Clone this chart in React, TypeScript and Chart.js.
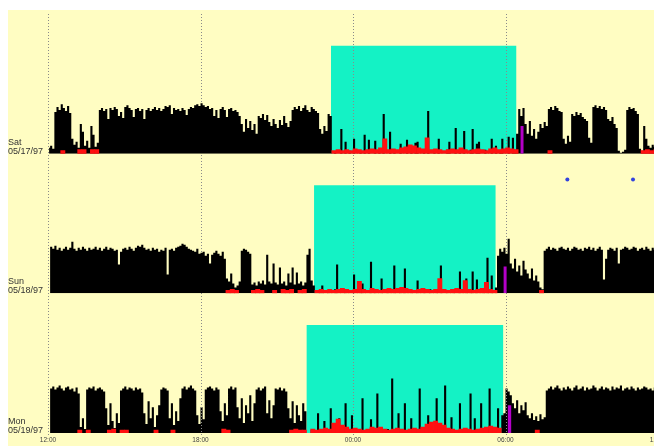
import React, { useEffect, useRef } from "react";
import { Chart, registerables } from "chart.js";

Chart.register(...registerables);

// ---- DATA ----
const dayNames = ["Sat", "Sun", "Mon"];
const dayDates = ["05/17/97", "05/18/97", "05/19/97"];
const tickLabels = ["12:00", "18:00", "00:00", "06:00", "12:00"];

// rest intervals (clock times)
const restStart = ["23:08", "22:28", "22:10"];
const restEnd = ["06:26", "05:37", "05:55"];
const REST_LEVEL = 1090;

// wake markers (purple)
const wakeStart = ["06:35", "05:55", "06:05"];
const wakeMinutes = [8, 8, 9];
const wakeLevel = [280, 270, 280];

// event markers (blue dots, Sunday panel)
const eventTimes = ["08:26", "11:01"];
const EVENT_LEVEL = 1150;

// activity counts, 5-minute epochs from 12:00 (288 per day)
const actSat = [
  60, 80, 50,
  420, 470, 440, 500, 460, 430, 480, 410,
  150, 90, 120, 60,
  300, 220,
  80, 130, 60,
  280, 190,
  70, 110,
  440, 460, 430, 450, 350, 460, 440, 470, 450, 380,
  420, 360, 470, 490, 460, 440, 370, 450, 460, 430,
  450, 350, 440, 460, 430, 450, 470, 440, 460, 430,
  450, 480, 470, 490, 400, 460, 440, 450, 430, 460,
  440, 390, 450, 470, 460, 490, 500, 480, 510, 490,
  470, 480, 450, 460, 380, 440, 360, 450, 470, 440,
  370, 450, 460, 430, 440, 420,
  380, 300, 220, 350, 260, 330, 240, 300, 200,
  380, 360, 400, 340, 390,
  320, 280, 350, 300, 260, 340, 290, 380, 310, 270, 330,
  440, 470, 450, 480, 430, 460, 490, 440, 420, 470, 450, 430, 410,
  250, 200, 280, 230,
  400, 380,
  0, 20, 0, 0, 250, 0, 120, 0, 30, 0,
  150, 0, 0, 20, 0, 190, 0, 140, 0, 0,
  130, 0, 30, 0, 400, 0, 0, 220, 0, 40,
  0, 0, 100, 0, 0, 140, 0, 30, 0, 110,
  120, 0, 0, 40, 0, 430, 0, 0, 30, 0,
  150, 0, 0, 0, 40, 120, 0, 0, 260, 0,
  30, 0, 230, 0, 0, 40, 250, 0, 100, 120,
  0, 0, 40, 0, 0, 150, 0, 80, 0, 30,
  150, 0, 0, 170, 0, 160, 40, 200,
  450, 380, 460, 300,
  200, 330, 180, 250, 150, 220,
  300, 260, 320, 280,
  450, 470, 440, 480, 460, 430, 420,
  150, 100, 180, 120,
  400, 380, 420, 390, 410, 370, 350, 330,
  160, 110,
  470, 490, 460, 480, 450, 470, 440,
  350, 330, 370, 300, 260,
  30, 10, 20, 40,
  440, 470, 450, 460, 430, 400,
  50, 30,
  280, 150,
  80, 60, 90, 70, 50,
];

const actSun = [
  0,
  470, 450, 480,
  440, 460, 430, 450, 470, 440, 460,
  520,
  450, 430, 460, 440, 470, 450, 430, 460, 440, 450,
  470, 440, 460, 430, 450, 470, 440, 460, 450, 430,
  440, 290, 420,
  450, 460, 440, 470, 450, 430, 460, 480, 470, 490,
  460, 440, 450, 430, 460, 440, 450, 420, 440, 430,
  460, 190,
  440, 450, 430, 460, 470, 480, 500, 490, 470, 450,
  440, 430, 420, 450, 400, 410,
  420, 380, 400, 300, 390, 410, 430, 400, 380, 420, 350,
  150, 120, 200, 100,
  60, 80, 120,
  430, 450, 440, 420, 400,
  90, 110, 80, 120, 100, 130, 90, 390, 120, 100,
  300, 110, 90, 260, 100, 120, 80, 200, 110, 260,
  90, 210, 100, 120, 80, 110, 390, 450, 130, 80,
  0, 0, 30, 80, 0, 0, 20, 0, 0, 40,
  290, 0, 0, 0, 30, 0, 0, 0, 190, 0,
  0, 40, 100, 0, 0, 0, 320, 0, 30, 0,
  0, 150, 0, 0, 20, 0, 0, 280, 0, 0,
  40, 0, 250, 0, 0, 30, 0, 0, 130, 0,
  0, 20, 0, 0, 40, 0, 0, 30, 0, 280,
  0, 0, 30, 0, 0, 40, 0, 0, 220, 0,
  0, 150, 0, 30, 220, 0, 140, 0, 0, 40,
  0, 360, 0, 180, 0, 60,
  380, 450, 420, 460, 400,
  550,
  300, 250, 350, 220, 280, 180, 330, 240,
  200, 150, 250, 130, 180, 120,
  60, 40,
  430, 450, 470, 440, 460, 450, 430, 460, 470, 450,
  440, 460, 430, 450, 470, 460, 440, 450, 430, 460,
  450, 470, 440, 460, 430, 450, 470, 440, 140, 350,
  440, 460, 450, 430, 460, 300, 440, 450, 470, 460,
  440, 450, 470, 460, 430, 450, 460, 440, 470, 450,
  430, 460, 440, 450,
];

const actMon = [
  0,
  450, 470, 440, 460, 480, 450, 430, 460, 470, 440, 450, 420, 460, 400,
  60, 150, 40,
  440, 460, 450, 470, 430, 450, 460, 440, 420,
  250, 80, 300, 120, 50, 200, 100,
  430, 450, 470, 440, 460, 450, 430, 460, 440, 450, 410,
  200, 90, 320, 150, 260, 60, 180, 280,
  440, 460, 450, 430,
  150, 300, 80, 220, 120, 350,
  450, 470, 440, 460, 480, 450, 430,
  180, 90, 260, 140,
  440, 460, 470, 450, 430, 460, 440,
  220, 120, 300, 180,
  450, 470, 440, 460,
  260, 150, 350, 100, 280, 200, 380, 120, 300,
  440, 460, 430, 450, 470,
  200, 330, 150, 280,
  450, 440, 460, 430, 450, 420,
  250, 150, 320, 100, 280, 180, 120, 300, 220,
  0, 0, 30, 0, 0, 200, 0, 0, 120, 0,
  0, 250, 0, 30, 0, 150, 0, 0, 300, 0,
  40, 180, 0, 0, 30, 0, 350, 0, 0, 40,
  140, 0, 0, 400, 0, 30, 0, 0, 40, 0,
  550, 0, 0, 200, 0, 0, 300, 0, 40, 150,
  0, 0, 30, 450, 0, 0, 40, 180, 0, 0,
  30, 350, 0, 0, 40, 480, 0, 0, 160, 0,
  30, 0, 300, 0, 0, 40, 0, 400, 0, 150,
  0, 30, 300, 0, 0, 40, 450, 0, 0, 30,
  250, 0, 180,
  200,
  450, 420, 380,
  300, 250, 330, 200, 280, 230, 310, 180, 150, 200, 130, 170, 120, 190, 140, 160,
  430, 450, 470, 440, 460, 480, 450, 430, 460, 440,
  470, 450, 430, 460, 480, 440, 450, 470, 430, 460,
  440, 450, 480, 460, 430, 450, 470, 440, 460, 450,
  430, 470, 440, 460, 450, 480, 430, 450, 460, 440,
  470, 450, 430, 460, 440, 450, 470, 460, 440, 450,
  430, 460, 450,
];

// red level, 10-minute bins from 12:00 (144 per day)
const redSat = [
  0, 0, 0, 30, 0, 0, 0, 40, 40, 0,
  40, 40, 0, 0, 0, 0, 0, 0, 0, 0,
  0, 0, 0, 0, 0, 0, 0, 0, 0, 0,
  0, 0, 0, 0, 0, 0, 0, 0, 0, 0,
  0, 0, 0, 0, 0, 0, 0, 0, 0, 0,
  0, 0, 0, 0, 0, 0, 0, 0, 0, 0,
  0, 0, 0, 0, 0, 0, 0, 30, 40, 30,
  40, 30, 50, 40, 30, 40, 50, 40, 60, 150,
  40, 50, 40, 60, 70, 90, 80, 60, 50, 160,
  40, 50, 40, 30, 40, 50, 40, 60, 40, 30,
  40, 50, 40, 30, 50, 60, 40, 50, 60, 50,
  40, 0, 0, 0, 0, 0, 0, 0, 30, 0,
  0, 0, 0, 0, 0, 0, 0, 0, 0, 0,
  0, 0, 0, 0, 0, 0, 0, 0, 0, 0,
  30, 40, 30, 40,
];

const redSun = [
  0, 0, 0, 0, 0, 0, 0, 0, 0, 0,
  0, 0, 0, 0, 0, 0, 0, 0, 0, 0,
  0, 0, 0, 0, 0, 0, 0, 0, 0, 0,
  0, 0, 0, 0, 0, 0, 0, 0, 0, 0,
  0, 0, 30, 40, 30, 0, 0, 0, 30, 40,
  30, 0, 0, 30, 0, 40, 30, 40, 0, 30,
  40, 0, 0, 30, 40, 30, 40, 30, 40, 50,
  40, 30, 40, 120, 40, 30, 50, 40, 30, 40,
  50, 40, 50, 60, 50, 40, 30, 40, 50, 40,
  30, 40, 150, 40, 30, 40, 50, 40, 130, 40,
  30, 40, 50, 110, 40, 30, 0, 0, 0, 0,
  0, 0, 0, 0, 0, 0, 30, 0, 0, 0,
  0, 0, 0, 0, 0, 0, 0, 0, 0, 0,
  0, 0, 0, 0, 0, 0, 0, 0, 0, 0,
  0, 0, 0, 0,
];

const redMon = [
  0, 0, 0, 0, 0, 0, 0, 30, 0, 30,
  0, 0, 0, 0, 30, 40, 0, 30, 30, 0,
  0, 0, 0, 0, 0, 30, 0, 0, 0, 30,
  0, 0, 0, 0, 0, 0, 0, 0, 0, 0,
  0, 40, 30, 0, 0, 0, 0, 0, 0, 0,
  0, 0, 0, 0, 0, 0, 0, 30, 40, 30,
  30, 0, 40, 30, 40, 50, 40, 100, 140, 80,
  60, 40, 50, 40, 30, 40, 60, 50, 60, 40,
  30, 40, 50, 40, 30, 40, 50, 40, 60, 90,
  110, 120, 100, 80, 50, 40, 30, 40, 50, 40,
  30, 40, 50, 60, 70, 60, 50, 0, 0, 0,
  0, 0, 0, 0, 0, 30, 0, 0, 0, 0,
  0, 0, 0, 0, 0, 0, 0, 0, 0, 0,
  0, 0, 0, 0, 0, 0, 0, 0, 0, 0,
  0, 0, 0, 0,
];

// ---- STYLE ----
const BG = "#FFFDC2";
const CYAN = "#14F2C5";
const RED = "#FF1010";
const PURPLE = "#B400C8";
const BLUE = "#3344DD";
const FONT = "'Liberation Sans', Arial, sans-serif";

const hoursFromNoon = (s: string) => {
  const [h, m] = s.split(":").map(Number);
  return ((h - 12 + 24) % 24) + m / 60;
};

const axisIds = ["ySat", "ySun", "yMon"];
const actAll = [actSat, actSun, actMon];
const redAll = [redSat, redSun, redMon];

function buildDatasets() {
  const ds: any[] = [];
  axisIds.forEach((axis, k) => {
    const s = hoursFromNoon(restStart[k]);
    const e = hoursFromNoon(restEnd[k]);
    ds.push({
      type: "line",
      kind: "rest",
      yAxisID: axis,
      data: [
        { x: s, y: REST_LEVEL },
        { x: e, y: REST_LEVEL },
      ],
      fill: "origin",
      backgroundColor: CYAN,
      borderColor: "rgba(0,0,0,0)",
      borderWidth: 0,
      pointRadius: 0,
      order: 4,
    });
    ds.push({
      type: "line",
      kind: "activity",
      yAxisID: axis,
      data: actAll[k].map((v, i) => ({ x: (i * 5 + 2.5) / 60, y: v })),
      stepped: "middle",
      fill: "origin",
      backgroundColor: "#000000",
      borderColor: "rgba(0,0,0,0)",
      borderWidth: 0,
      pointRadius: 0,
      order: 3,
    });
    ds.push({
      type: "bar",
      kind: "red",
      yAxisID: axis,
      data: redAll[k].map((v, j) => ({ x: (j * 10 + 5) / 60, y: v || null })),
      backgroundColor: RED,
      borderWidth: 0,
      barPercentage: 1,
      categoryPercentage: 1,
      grouped: false,
      order: 2,
    });
    const ws = hoursFromNoon(wakeStart[k]);
    ds.push({
      type: "line",
      kind: "wake",
      yAxisID: axis,
      data: [
        { x: ws, y: wakeLevel[k] },
        { x: ws + wakeMinutes[k] / 60, y: wakeLevel[k] },
      ],
      fill: "origin",
      backgroundColor: PURPLE,
      borderColor: "rgba(0,0,0,0)",
      borderWidth: 0,
      pointRadius: 0,
      order: 1,
    });
  });
  ds.push({
    type: "scatter",
    kind: "event",
    yAxisID: "ySun",
    data: eventTimes.map((t) => ({ x: hoursFromNoon(t), y: EVENT_LEVEL })),
    pointRadius: 2,
    backgroundColor: BLUE,
    borderWidth: 0,
    order: 0,
  });
  return ds;
}

const bgPlugin = {
  id: "bgFill",
  beforeDraw(chart: any) {
    const { ctx, width, height } = chart;
    ctx.save();
    ctx.fillStyle = BG;
    ctx.fillRect(0, 0, width, height);
    ctx.restore();
  },
};

const gridPlugin = {
  id: "midGrid",
  beforeDatasetsDraw(chart: any) {
    chart.$gridDone = false;
  },
  beforeDatasetDraw(chart: any, args: any) {
    const d = chart.data.datasets[args.index];
    if (chart.$gridDone || d.kind !== "activity") return;
    chart.$gridDone = true;
    const { ctx, chartArea } = chart;
    const xs = chart.scales.x;
    ctx.save();
    ctx.strokeStyle = "#8a8a8a";
    ctx.lineWidth = 1;
    ctx.setLineDash([1, 2]);
    xs.ticks.forEach((t: any) => {
      const px = Math.round(xs.getPixelForValue(t.value)) + 0.5;
      ctx.beginPath();
      ctx.moveTo(px, chartArea.top);
      ctx.lineTo(px, chartArea.bottom + 3);
      ctx.stroke();
    });
    ctx.restore();
  },
};

const dayLabelPlugin = {
  id: "dayLabels",
  afterDraw(chart: any) {
    const { ctx } = chart;
    ctx.save();
    ctx.fillStyle = "#333333";
    ctx.font = `9px ${FONT}`;
    ctx.textAlign = "left";
    ctx.textBaseline = "alphabetic";
    axisIds.forEach((axis, k) => {
      const y0 = chart.scales[axis].getPixelForValue(0);
      ctx.fillText(dayNames[k], 0, y0 - 9);
      ctx.fillText(dayDates[k], 0, y0);
    });
    ctx.restore();
  },
};

function yAxis(weight: number) {
  return {
    type: "linear",
    position: "left",
    stack: "days",
    stackWeight: 1,
    weight,
    min: 0,
    max: 1410,
    display: true,
    ticks: { display: false },
    grid: { display: false, drawTicks: false },
    border: { display: false },
  };
}

export default function App() {
  const ref = useRef<HTMLCanvasElement>(null);
  useEffect(() => {
    if (!ref.current) return;
    const chart = new Chart(ref.current, {
      type: "line",
      data: { datasets: buildDatasets() } as any,
      options: {
        responsive: false,
        animation: false,
        events: [],
        layout: { padding: { left: 40, right: 2, top: 0, bottom: 0 } },
        plugins: { legend: { display: false }, tooltip: { enabled: false } },
        scales: {
          x: {
            type: "linear",
            min: 0,
            max: 24,
            offset: false,
            ticks: {
              stepSize: 6,
              maxRotation: 0,
              autoSkip: false,
              padding: 3,
              color: "#444444",
              font: { size: 6.5, family: FONT },
              callback: (v: any) => tickLabels[Math.round(Number(v) / 6)] ?? "",
            },
            grid: { display: false, drawTicks: false },
            border: { display: false },
            afterFit: (s: any) => {
              s.height = 13;
              s.paddingLeft = 0;
              s.paddingRight = 0;
            },
          },
          ySat: yAxis(3),
          ySun: yAxis(2),
          yMon: yAxis(1),
        } as any,
      },
      plugins: [bgPlugin, gridPlugin, dayLabelPlugin],
    } as any);
    return () => chart.destroy();
  }, []);
  return (
    <div style={{ paddingTop: 2 }}>
      <canvas
        ref={ref}
        width={654}
        height={436}
        style={{ display: "block", width: 654, height: 436 }}
      />
    </div>
  );
}
